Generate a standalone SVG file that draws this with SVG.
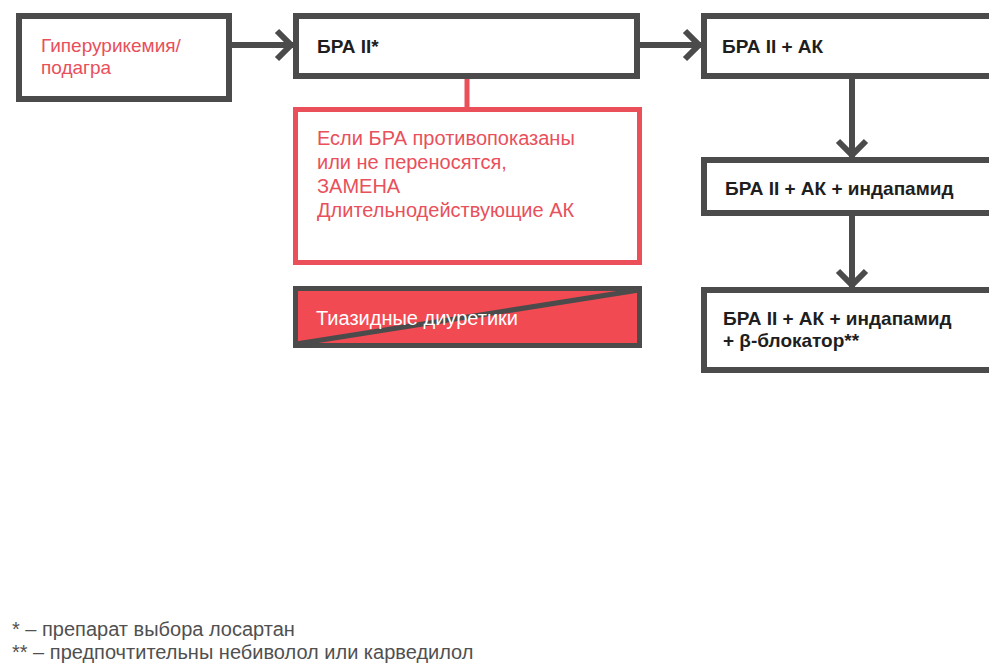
<svg xmlns="http://www.w3.org/2000/svg" width="989" height="668" viewBox="0 0 989 668">
  <defs>
    <style>
      .box { fill: #ffffff; stroke: #4b4b4b; stroke-width: 6; }
      .alt { fill: #ffffff; stroke: #ea4f5a; stroke-width: 5; }
      .excl { fill: #f24a52; stroke: #4b4b4b; stroke-width: 5; }
      .cut { stroke: #4b4b4b; stroke-width: 5; fill: none; }
      .flow { stroke: #4b4b4b; stroke-width: 6; fill: none; }
      .link { stroke: #ea4f5a; stroke-width: 5; fill: none; }
      .t { font-family: "Liberation Sans", Arial, sans-serif; font-size: 20px; }
      .dark { fill: #1e1e1e; font-weight: bold; font-size: 19px; }
      .red { fill: #e8505b; }
      .small { font-size: 19px; }
      .white { fill: #ffffff; }
      .note { fill: #505050; font-size: 20px; }
    </style>
    <marker id="chev" viewBox="-24 -18 28 36" refX="0" refY="0" markerWidth="28" markerHeight="36" markerUnits="userSpaceOnUse" orient="auto">
      <path d="M-16,-14 L-2,0 L-16,14" fill="none" stroke="#4b4b4b" stroke-width="6"/>
    </marker>
  </defs>

  <g id="connectors">
    <line class="flow" x1="232" y1="45" x2="293" y2="45" marker-end="url(#chev)"/>
    <line class="flow" x1="640" y1="45" x2="701" y2="45" marker-end="url(#chev)"/>
    <line class="flow" x1="852" y1="79" x2="852" y2="157" marker-end="url(#chev)"/>
    <line class="flow" x1="852" y1="216" x2="852" y2="287" marker-end="url(#chev)"/>
    <line class="link" x1="467" y1="79" x2="467" y2="108"/>
  </g>

  <g id="hyperuricemia">
    <rect class="box" x="19" y="16" width="210" height="83"/>
    <text class="t red small" x="41" y="52">Гиперурикемия/</text>
    <text class="t red small" x="41" y="74">подагра</text>
  </g>

  <g id="arb">
    <rect class="box" x="296" y="16" width="341" height="60"/>
    <text class="t dark" x="317" y="53">БРА II*</text>
  </g>

  <g id="arb-ccb">
    <rect class="box" x="704" y="16" width="300" height="60"/>
    <text class="t dark" x="722" y="53">БРА II + АК</text>
  </g>

  <g id="alternative">
    <rect class="alt" x="295.5" y="109.5" width="344" height="153"/>
    <text class="t red" x="317" y="145">Если БРА противопоказаны</text>
    <text class="t red" x="317" y="169">или не переносятся,</text>
    <text class="t red" x="317" y="193">ЗАМЕНА</text>
    <text class="t red" x="317" y="217">Длительнодействующие АК</text>
  </g>

  <g id="thiazides">
    <rect class="excl" x="295.5" y="288.5" width="344" height="57"/>
    <line class="cut" x1="296" y1="344" x2="639" y2="290"/>
    <text class="t white" x="316" y="325">Тиазидные диуретики</text>
  </g>

  <g id="arb-ccb-indapamide">
    <rect class="box" x="704" y="160" width="300" height="53"/>
    <text class="t dark" x="725" y="195">БРА II + АК + индапамид</text>
  </g>

  <g id="arb-ccb-indapamide-bb">
    <rect class="box" x="704" y="290" width="300" height="80"/>
    <text class="t dark" x="723" y="325">БРА II + АК + индапамид</text>
    <text class="t dark" x="723" y="347">+ β-блокатор**</text>
  </g>

  <g id="footnotes">
    <text class="t note" x="12" y="636">* – препарат выбора лосартан</text>
    <text class="t note" x="12" y="659">** – предпочтительны небиволол или карведилол</text>
  </g>
</svg>
